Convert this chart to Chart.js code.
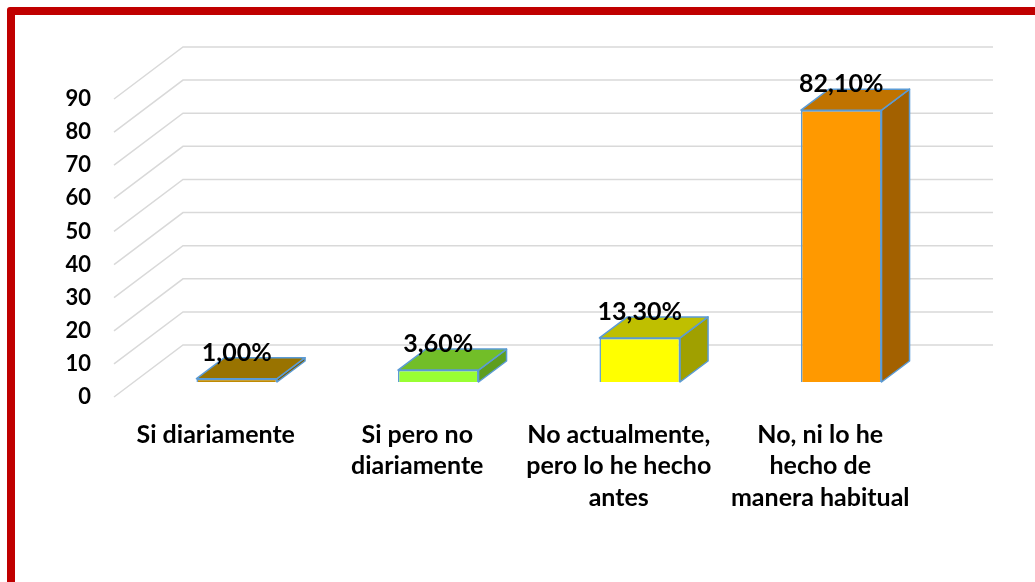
<!DOCTYPE html>
<html>
<head>
<meta charset="utf-8">
<script src="https://cdn.jsdelivr.net/npm/chart.js@4"></script>
<style>
  html, body { margin: 0; padding: 0; background: #fff; overflow: hidden; }
  #frame { position: absolute; left: 7px; top: 7px; right: -30px; bottom: -30px;
           border: 8px solid #C00000; border-radius: 3px; }
  #chart_canvas { position: absolute; left: 0; top: 0; }
</style>
</head>
<body>
<div id="frame"></div>
<canvas id="chart_canvas" width="1035" height="582"></canvas>
<script>

var categories = [['Si diariamente'],
                  ['Si pero no', 'diariamente'],
                  ['No actualmente,', 'pero lo he hecho', 'antes'],
                  ['No, ni lo he', 'hecho de', 'manera habitual']];
var values = [1.0, 3.6, 13.3, 82.1];
var value_labels = ['1,00%', '3,60%', '13,30%', '82,10%'];

var front_colors = ['#C08A00', '#99FF33', '#FFFF00', '#FF9900'];
var top_colors   = ['#997300', '#72BE28', '#BFBF00', '#C07300'];
var side_colors  = ['#7A5C00', '#5E9E20', '#A0A000', '#A36100'];

var depth_x = 28, depth_y = -21;   // bar depth
var wall_dx = 69, wall_dy = -52;   // floor depth (front edge -> back wall)
var front_shift = 15;              // front edge of floor is below the bar base

// back wall + floor grid lines
const gridPlugin = {
    id: 'grid3d',
    beforeDatasetsDraw(chart) {
        const ctx = chart.ctx;
        const y = chart.scales.y;
        const area = chart.chartArea;
        const x_front = area.left - 22;
        const x_back = x_front + wall_dx;
        const x_end = area.right + 51;
        ctx.save();
        ctx.strokeStyle = '#D9D9D9';
        ctx.lineWidth = 1.5;
        y.ticks.forEach(t => {
            const py = y.getPixelForValue(t.value) + front_shift;
            ctx.beginPath();
            ctx.moveTo(x_front, py);
            ctx.lineTo(x_back, py + wall_dy);
            ctx.lineTo(x_end, py + wall_dy);
            ctx.stroke();
        });
        ctx.restore();
    }
};

// top and side faces of each bar, then the value labels
const boxPlugin = {
    id: 'box3d',
    afterDatasetsDraw(chart) {
        const ctx = chart.ctx;
        const meta = chart.getDatasetMeta(0);
        ctx.save();
        ctx.lineWidth = 1.5;
        ctx.strokeStyle = '#5B9BD5';
        ctx.lineJoin = 'round';
        meta.data.forEach((bar, i) => {
            const left = bar.x - bar.width / 2;
            const right = bar.x + bar.width / 2;
            const top = bar.y;
            const base = bar.base;
            // side
            ctx.beginPath();
            ctx.moveTo(right, top);
            ctx.lineTo(right + depth_x, top + depth_y);
            ctx.lineTo(right + depth_x, base + depth_y);
            ctx.lineTo(right, base);
            ctx.closePath();
            ctx.fillStyle = side_colors[i];
            ctx.fill();
            ctx.stroke();
            // top
            ctx.beginPath();
            ctx.moveTo(left, top);
            ctx.lineTo(right, top);
            ctx.lineTo(right + depth_x, top + depth_y);
            ctx.lineTo(left + depth_x, top + depth_y);
            ctx.closePath();
            ctx.fillStyle = top_colors[i];
            ctx.fill();
            ctx.stroke();
        });
        ctx.fillStyle = '#000';
        ctx.font = 'bold 25px Lato';
        ctx.textAlign = 'center';
        ctx.textBaseline = 'middle';
        meta.data.forEach((bar, i) => {
            ctx.fillText(value_labels[i], bar.x, bar.y - 26);
        });
        ctx.restore();
    }
};

const data = {
    labels: categories,
    datasets: [{
        data: values,
        backgroundColor: front_colors,
        borderColor: '#5B9BD5',
        borderWidth: 1.5,
        barPercentage: 0.8,
        categoryPercentage: 0.5,
    }]
};

const config = {
    type: 'bar',
    data: data,
    options: {
        responsive: false,
        animation: false,
        layout: { padding: { left: 0, right: 93, top: 84, bottom: 0 } },
        scales: {
            x: {
                grid: { display: false, drawTicks: false },
                border: { display: false },
                ticks: {
                    color: '#000',
                    font: { family: 'Lato', size: 25, weight: 'bold', lineHeight: 1.26 },
                    padding: 37,
                    labelOffset: -21,
                    maxRotation: 0,
                    autoSkip: false,
                },
                afterFit: s => { s.height = 200; },
            },
            y: {
                min: 0,
                max: 90,
                grid: { display: false, drawTicks: false },
                border: { display: false },
                ticks: {
                    stepSize: 10,
                    color: '#000',
                    font: { family: 'Lato', size: 22, weight: 'bold' },
                    padding: 45,
                    labelOffset: front_shift,
                },
                afterFit: s => { s.width = 136; },
            }
        },
        plugins: {
            legend: { display: false },
            tooltip: { enabled: false },
        }
    },
    plugins: [gridPlugin, boxPlugin]
};

const myChart = new Chart(document.getElementById('chart_canvas'), config);
</script>
</body>
</html>
